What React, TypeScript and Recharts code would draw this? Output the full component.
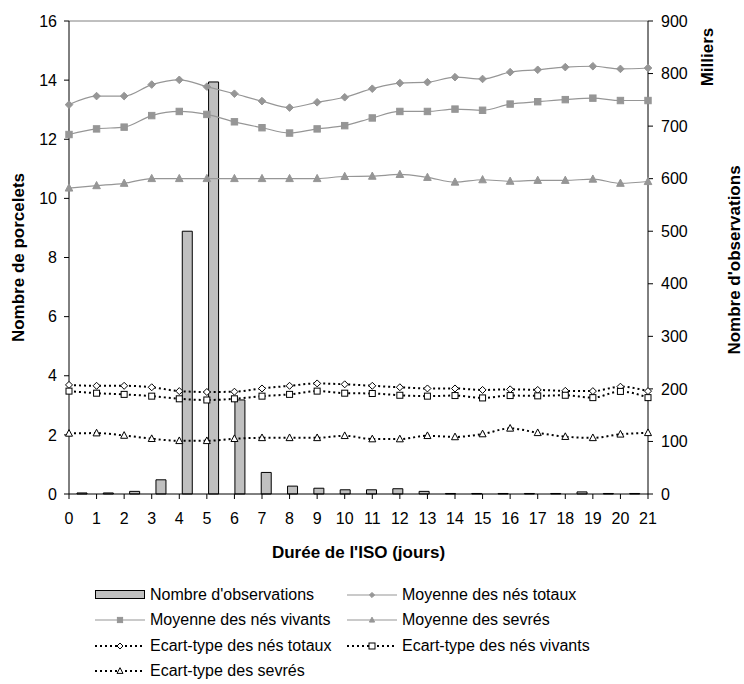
import React from 'react';
import { ComposedChart, Bar, Line, XAxis, YAxis, Legend, ReferenceLine } from 'recharts';

const days = [0, 1, 2, 3, 4, 5, 6, 7, 8, 9, 10, 11, 12, 13, 14, 15, 16, 17, 18, 19, 20, 21];
const observations = [2, 2, 5, 27, 500, 784, 179, 41, 15, 11, 8, 8, 10, 5, 1, 1, 1, 1, 1, 4, 1, 1];
const moyTotaux = [13.17, 13.46, 13.46, 13.85, 14.01, 13.78, 13.54, 13.29, 13.07, 13.25, 13.42, 13.71, 13.9, 13.93, 14.1, 14.04, 14.27, 14.35, 14.44, 14.47, 14.38, 14.41];
const moyVivants = [12.16, 12.35, 12.41, 12.8, 12.94, 12.84, 12.59, 12.39, 12.21, 12.35, 12.46, 12.72, 12.94, 12.94, 13.02, 12.98, 13.19, 13.27, 13.34, 13.39, 13.31, 13.31];
const moySevres = [10.35, 10.43, 10.51, 10.67, 10.67, 10.67, 10.67, 10.67, 10.67, 10.67, 10.74, 10.75, 10.81, 10.71, 10.55, 10.63, 10.58, 10.61, 10.61, 10.65, 10.51, 10.57];
const etTotaux = [3.69, 3.66, 3.66, 3.61, 3.48, 3.45, 3.46, 3.57, 3.66, 3.74, 3.71, 3.66, 3.61, 3.57, 3.57, 3.52, 3.54, 3.52, 3.49, 3.48, 3.63, 3.48];
const etVivants = [3.48, 3.41, 3.37, 3.31, 3.22, 3.18, 3.22, 3.31, 3.37, 3.48, 3.41, 3.4, 3.34, 3.31, 3.33, 3.25, 3.33, 3.32, 3.34, 3.26, 3.47, 3.26];
const etSevres = [2.05, 2.06, 1.98, 1.87, 1.8, 1.8, 1.87, 1.9, 1.9, 1.9, 1.97, 1.86, 1.86, 1.97, 1.93, 2.03, 2.22, 2.07, 1.94, 1.9, 2.02, 2.07];
const leftTicks = [0, 2, 4, 6, 8, 10, 12, 14, 16];
const rightTicks = [0, 100, 200, 300, 400, 500, 600, 700, 800, 900];

const data = days.map((d, i) => ({
  day: d,
  obs: observations[i],
  mt: moyTotaux[i],
  mv: moyVivants[i],
  ms: moySevres[i],
  et: etTotaux[i],
  ev: etVivants[i],
  es: etSevres[i],
}));

const FONT = '"Liberation Sans", Arial, sans-serif';
const GRAY = '#969696';

type Shape = 'diamond' | 'square' | 'triangle';

function Marker({ shape, cx, cy, fill, stroke, s }: { shape: Shape; cx: number; cy: number; fill: string; stroke: string; s: number }) {
  if (shape === 'diamond') {
    return <polygon points={`${cx},${cy - s} ${cx + s},${cy} ${cx},${cy + s} ${cx - s},${cy}`} fill={fill} stroke={stroke} strokeWidth={1} />;
  }
  if (shape === 'square') {
    return <rect x={cx - s} y={cy - s} width={2 * s} height={2 * s} fill={fill} stroke={stroke} strokeWidth={1} />;
  }
  return <polygon points={`${cx},${cy - s * 1.1} ${cx + s},${cy + s * 0.8} ${cx - s},${cy + s * 0.8}`} fill={fill} stroke={stroke} strokeWidth={1} />;
}

const makeDot = (shape: Shape, fill: string, stroke: string, s: number) => (props: any) => {
  const { cx, cy, index } = props;
  if (cx == null || cy == null) return <g key={`d-${index}`} />;
  return <Marker key={`d-${index}`} shape={shape} cx={cx} cy={cy} fill={fill} stroke={stroke} s={s} />;
};

const legendItems = [
  { name: "Nombre d'observations", kind: 'bar' as const },
  { name: 'Moyenne des nés totaux', kind: 'line' as const, shape: 'diamond' as Shape },
  { name: 'Moyenne des nés vivants', kind: 'line' as const, shape: 'square' as Shape },
  { name: 'Moyenne des sevrés', kind: 'line' as const, shape: 'triangle' as Shape },
  { name: 'Ecart-type des nés totaux', kind: 'dot' as const, shape: 'diamond' as Shape },
  { name: 'Ecart-type des nés vivants', kind: 'dot' as const, shape: 'square' as Shape },
  { name: 'Ecart-type des sevrés', kind: 'dot' as const, shape: 'triangle' as Shape },
];

function LegendIcon({ item }: { item: (typeof legendItems)[number] }) {
  const w = 50;
  const h = 14;
  if (item.kind === 'bar') {
    return (
      <svg width={w} height={h}>
        <rect x={0.5} y={2.5} width={w - 1} height={8} fill="#C0C0C0" stroke="#000" />
      </svg>
    );
  }
  if (item.kind === 'line') {
    return (
      <svg width={w} height={h}>
        <line x1={0} y1={7} x2={w} y2={7} stroke={GRAY} strokeWidth={1.2} />
        <Marker shape={item.shape!} cx={w / 2} cy={7} fill={GRAY} stroke={GRAY} s={2.6} />
      </svg>
    );
  }
  return (
    <svg width={w} height={h}>
      <line x1={0} y1={7} x2={w} y2={7} stroke="#000" strokeWidth={2} strokeDasharray="2 3" />
      <Marker shape={item.shape!} cx={w / 2} cy={7} fill="#fff" stroke="#000" s={3} />
    </svg>
  );
}

function CustomLegend() {
  return (
    <div
      style={{
        display: 'grid',
        gridTemplateColumns: '252px 300px',
        paddingLeft: 95,
        fontFamily: FONT,
        fontSize: 16,
        color: '#000',
      }}
    >
      {legendItems.map((it) => (
        <div key={it.name} style={{ display: 'flex', alignItems: 'center', height: 25.5 }}>
          <LegendIcon item={it} />
          <span style={{ marginLeft: 5, whiteSpace: 'nowrap' }}>{it.name}</span>
        </div>
      ))}
    </div>
  );
}

const RotLabel = (text: string, x: number, cyOverride?: number) => (props: any) => {
  const vb = props.viewBox || {};
  const cy = cyOverride != null ? cyOverride : vb.y + vb.height / 2;
  return (
    <text
      x={x}
      y={cy}
      transform={`rotate(-90, ${x}, ${cy})`}
      textAnchor="middle"
      dominantBaseline="central"
      fontFamily={FONT}
      fontSize={17}
      fontWeight="bold"
      fill="#000"
    >
      {text}
    </text>
  );
};

export default function App() {
  const tickStyle = { fontSize: 16, fill: '#000', fontFamily: FONT };
  return (
    <div style={{ position: 'absolute', left: 0, top: 0, width: 744, height: 684, background: '#fff' }}>
      <ComposedChart width={744} height={684} data={data} margin={{ top: 21, right: 0, bottom: 126, left: 0 }}>
        <XAxis
          xAxisId="line"
          dataKey="day"
          type="number"
          domain={[0, 21]}
          ticks={days}
          interval={0}
          allowDecimals={false}
          height={64}
          stroke="#000"
          tickSize={5}
          tickMargin={14}
          tick={tickStyle}
          label={{ value: "Durée de l'ISO (jours)", position: 'insideBottom', offset: 0, style: { fontFamily: FONT, fontSize: 17, fontWeight: 'bold', fill: '#000' } }}
        />
        <XAxis xAxisId="bar" dataKey="day" type="category" orientation="top" height={0} hide />
        <YAxis
          yAxisId="left"
          orientation="left"
          domain={[0, 16]}
          ticks={leftTicks}
          interval={0}
          width={69}
          stroke="#000"
          tickSize={5}
          tickMargin={7}
          tick={tickStyle}
          label={{ content: RotLabel('Nombre de porcelets', 18) }}
        />
        <YAxis
          yAxisId="right"
          orientation="right"
          domain={[0, 900]}
          ticks={rightTicks}
          interval={0}
          width={96}
          stroke="#000"
          tickSize={5}
          tickMargin={8}
          tick={tickStyle}
          label={{ content: (p: any) => (
            <g>
              {RotLabel('Milliers', 707, 57)(p)}
              {RotLabel("Nombre d'observations", 734, 260)(p)}
            </g>
          ) }}
        />
        <ReferenceLine xAxisId="line" yAxisId="left" y={16} stroke="#808080" strokeWidth={1} />
        <Bar
          xAxisId="bar"
          yAxisId="right"
          dataKey="obs"
          name="Nombre d'observations"
          fill="#C0C0C0"
          stroke="#000"
          strokeWidth={1}
          barSize={10}
          isAnimationActive={false}
        />
        <Line xAxisId="line" yAxisId="left" type="monotone" dataKey="mt" name="Moyenne des nés totaux" stroke={GRAY} strokeWidth={1.2} dot={makeDot('diamond', GRAY, GRAY, 3.8)} isAnimationActive={false} />
        <Line xAxisId="line" yAxisId="left" type="monotone" dataKey="mv" name="Moyenne des nés vivants" stroke={GRAY} strokeWidth={1.2} dot={makeDot('square', GRAY, GRAY, 3.2)} isAnimationActive={false} />
        <Line xAxisId="line" yAxisId="left" type="monotone" dataKey="ms" name="Moyenne des sevrés" stroke={GRAY} strokeWidth={1.2} dot={makeDot('triangle', GRAY, GRAY, 3.8)} isAnimationActive={false} />
        <Line xAxisId="line" yAxisId="left" type="monotone" dataKey="et" name="Ecart-type des nés totaux" stroke="#000" strokeWidth={2} strokeDasharray="2 3" dot={makeDot('diamond', '#fff', '#000', 3.5)} isAnimationActive={false} />
        <Line xAxisId="line" yAxisId="left" type="monotone" dataKey="ev" name="Ecart-type des nés vivants" stroke="#000" strokeWidth={2} strokeDasharray="2 3" dot={makeDot('square', '#fff', '#000', 3)} isAnimationActive={false} />
        <Line xAxisId="line" yAxisId="left" type="monotone" dataKey="es" name="Ecart-type des sevrés" stroke="#000" strokeWidth={2} strokeDasharray="2 3" dot={makeDot('triangle', '#fff', '#000', 3.5)} isAnimationActive={false} />
        <Legend
          layout="vertical"
          align="center"
          verticalAlign="middle"
          content={() => <CustomLegend />}
          wrapperStyle={{ top: 582, left: 0, width: 744, height: 104 }}
        />
      </ComposedChart>
    </div>
  );
}
